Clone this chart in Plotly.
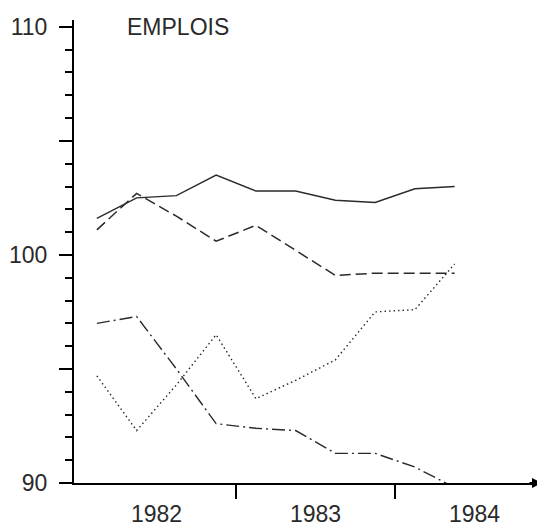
# Libraries

import plotly.graph_objects as go

# Data (quarterly indices)
periods = ["1982-T1", "1982-T2", "1982-T3", "1982-T4",
           "1983-T1", "1983-T2", "1983-T3", "1983-T4",
           "1984-T1", "1984-T2"]

serie_pleine = [101.6, 102.5, 102.6, 103.5, 102.8, 102.8, 102.4, 102.3, 102.9, 103.0]
serie_tirets = [101.1, 102.7, 101.7, 100.6, 101.3, 100.2, 99.1, 99.2, 99.2, 99.2]
serie_mixte = [97.0, 97.3, 95.0, 92.6, 92.4, 92.3, 91.3, 91.3, 90.7, 89.8]
serie_points = [94.7, 92.3, 94.3, 96.5, 93.7, 94.5, 95.4, 97.5, 97.6, 99.6]

year_labels = ["1982", "1983", "1984"]
y_labels = ["90", "", "100", "", "110"]
y_ticks = [90, 95, 100, 105, 110]
title_text = "EMPLOIS"

INK = "#2a2a2a"
FONT = "Liberation Sans, Arial, sans-serif"


def period_to_x(period):
    # quarter plotted at the middle of its quarter
    year, q = period.split("-T")
    return int(year) + (int(q) - 0.5) / 4


x = [period_to_x(p) for p in periods]

fig = go.Figure()

series = [
    (serie_pleine, "solid", 1.4),
    (serie_tirets, "11px,5px", 1.5),
    (serie_mixte, "13px,4px,2px,4px", 1.4),
    (serie_points, "1.5px,3px", 1.4),
]
for values, dash, width in series:
    fig.add_trace(go.Scatter(x=x, y=values, mode="lines",
                             line=dict(color=INK, width=width, dash=dash),
                             showlegend=False, hoverinfo="skip"))

# plot area: 468 px wide, 1982.0 sits 3 px right of the y axis, 159 px per year
x0 = 1982 - 3 / 159
x1 = x0 + 468 / 159

fig.update_xaxes(range=[x0, x1], showgrid=False, zeroline=False, automargin=False,
                 showline=True, linecolor="black", linewidth=2,
                 tickvals=[1982.5, 1983.5, 1984.5], ticktext=year_labels,
                 ticks="", ticklabelstandoff=9,
                 tickfont=dict(family=FONT, size=23, color=INK),
                 minor=dict(tickvals=[1983, 1984], ticks="outside",
                            ticklen=14, tickwidth=2, tickcolor="black"))

fig.update_yaxes(range=[90, 110.3], showgrid=False, zeroline=False, automargin=False,
                 showline=True, linecolor="black", linewidth=2,
                 tickvals=y_ticks, ticktext=y_labels,
                 ticks="outside", ticklen=13, tickwidth=2, tickcolor="black",
                 ticklabelstandoff=7,
                 tickfont=dict(family=FONT, size=23, color=INK),
                 minor=dict(dtick=1, ticks="outside", ticklen=7,
                            tickwidth=2, tickcolor="black"))

# arrow head at the end of the x axis
fig.add_annotation(x=1.0, y=0, xref="paper", yref="paper", text="",
                   showarrow=True, ax=-14, ay=0, arrowhead=2,
                   arrowsize=1, arrowwidth=2, arrowcolor="black")

fig.add_annotation(x=(124 - 73) / 468, y=110, xref="paper", yref="y",
                   text=title_text, showarrow=False,
                   xanchor="left", yanchor="middle",
                   font=dict(family=FONT, size=23, color=INK))

# the page body adds an 8 px offset, so the figure is 8 px smaller each way
fig.update_layout(width=537, height=518,
                  margin=dict(l=66, r=3, t=12, b=43),
                  plot_bgcolor="white", paper_bgcolor="white")

fig.write_html("out.html")
